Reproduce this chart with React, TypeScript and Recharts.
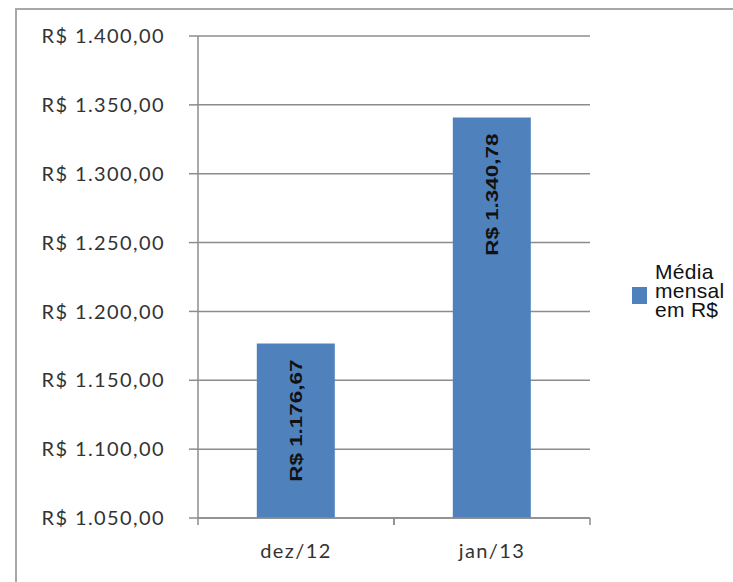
import React from "react"
import { BarChart, Bar, XAxis, YAxis, CartesianGrid, Legend, LabelList } from "recharts"

const CATEGORIES = ["dez/12", "jan/13"]
const VALUES = [1176.67, 1340.78]
const Y_TICKS = [1050, 1100, 1150, 1200, 1250, 1300, 1350, 1400]
const SERIES_NAME = "Média mensal em R$"

const BAR_COLOR = "#4F81BD"
const AXIS_COLOR = "#8c8c8c"
const TEXT_COLOR = "#333333"

// R$ 1.234,56
const brl = (v: number) => {
  const [int, dec] = v.toFixed(2).split(".")
  const withDots = int.replace(/\B(?=(\d{3})+(?!\d))/g, ".")
  return `R$ ${withDots},${dec}`
}

const data = CATEGORIES.map((month, i) => ({ month, media: VALUES[i] }))

const TICK_SIZE = 7
const TICK_MARGIN = 19
const LEGEND_WIDTH = 110

// category label + tick marks on the band edges (Excel style)
const MonthTick = (props: any) => {
  const { x, y, payload } = props
  const half = payload?.offset ?? 0
  const y1 = y - TICK_MARGIN - TICK_SIZE
  const y2 = y - TICK_MARGIN
  return (
    <g>
      <line x1={x - half} x2={x - half} y1={y1} y2={y2} stroke={AXIS_COLOR} strokeWidth={1.5} />
      <line x1={x + half} x2={x + half} y1={y1} y2={y2} stroke={AXIS_COLOR} strokeWidth={1.5} />
      <text x={x} y={y} dy="0.71em" textAnchor="middle" fill={TEXT_COLOR} fontSize={20} fontFamily="Lato" letterSpacing={1.4}>
        {payload.value}
      </text>
    </g>
  )
}

const BarValueLabel = (props: any) => {
  const { x, y, width, value } = props
  const cx = x + width / 2
  const ty = y + 16
  return (
    <text
      transform={`translate(${cx},${ty}) rotate(-90) scale(1.32,1)`}
      textAnchor="end"
      dominantBaseline="central"
      fill="#111111"
      fontSize={17}
      fontWeight="bold"
      fontFamily="Liberation Sans"
    >
      {brl(value)}
    </text>
  )
}

const LegendBox = (props: any) => {
  const item = props.payload?.[0]
  return (
    <div style={{ display: "flex", alignItems: "center", fontFamily: "Liberation Sans", fontSize: 21, color: "#111" }}>
      <div
        style={{
          width: 15,
          height: 17,
          background: item?.color ?? BAR_COLOR,
          marginRight: 8,
          flexShrink: 0,
          position: "relative",
          top: 5,
        }}
      />
      <div style={{ width: 85, lineHeight: "19px", letterSpacing: 0.3 }}>{item?.value}</div>
    </div>
  )
}

export default function App() {
  return (
    <div style={{ position: "fixed", left: 0, top: 0, width: 733, height: 582, overflow: "hidden", background: "#fff" }}>
      <div
        style={{
          position: "absolute",
          left: 15,
          top: 8,
          width: 760,
          height: 620,
          border: "2px solid #a8a8a8",
          boxSizing: "border-box",
        }}
      />
      <div style={{ position: "absolute", left: 0, top: 0 }}>
        <BarChart
          width={733}
          height={582}
          data={data}
          margin={{ top: 36, right: 143 - LEGEND_WIDTH, bottom: 0, left: 0 }}
          barCategoryGap="30%"
        >
          <CartesianGrid vertical={false} stroke={AXIS_COLOR} strokeWidth={1.5} />
          <XAxis
            dataKey="month"
            height={64}
            tickLine={false}
            tickSize={TICK_SIZE}
            tickMargin={TICK_MARGIN}
            axisLine={{ stroke: AXIS_COLOR, strokeWidth: 1.5 }}
            tick={<MonthTick />}
            interval={0}
          />
          <YAxis
            width={198}
            domain={[1050, 1400]}
            ticks={Y_TICKS}
            interval={0}
            tickFormatter={brl}
            tickSize={9}
            tickMargin={24}
            axisLine={{ stroke: AXIS_COLOR, strokeWidth: 1.5 }}
            tickLine={{ stroke: AXIS_COLOR, strokeWidth: 1.5 }}
            tick={{ fill: TEXT_COLOR, fontSize: 20, fontFamily: "Lato", letterSpacing: 1.4 }}
          />
          <Legend
            layout="horizontal"
            verticalAlign="middle"
            align="right"
            content={<LegendBox />}
            wrapperStyle={{ left: 632, top: 262, width: LEGEND_WIDTH, right: "auto", bottom: "auto" }}
          />
          <Bar dataKey="media" name={SERIES_NAME} fill={BAR_COLOR} isAnimationActive={false}>
            <LabelList dataKey="media" content={<BarValueLabel />} />
          </Bar>
        </BarChart>
      </div>
    </div>
  )
}
